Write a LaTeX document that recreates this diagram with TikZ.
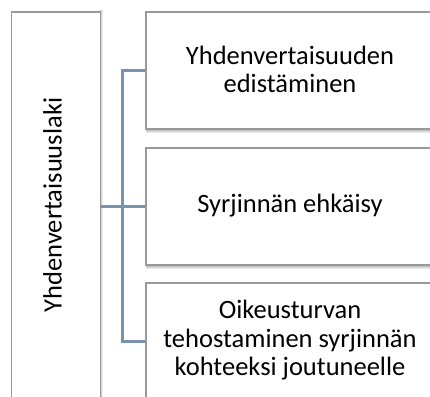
\documentclass[tikz,border=0pt]{standalone}
\usepackage{fontspec}
\setmainfont{Carlito}
\definecolor{connblue}{RGB}{120,148,173}
\begin{document}
\begin{tikzpicture}[x=1pt,y=-1pt,
  box/.style={draw=black!40, line width=1.6pt, fill=white, inner sep=0pt},
  rbox/.style={box, minimum width=290pt, minimum height=117pt, anchor=north west},
  lbl/.style={font=\fontsize{26.5}{28.5}\selectfont, align=center, text=black},
  conn/.style={draw=connblue, line width=3pt}]
\useasboundingbox (0,0) rectangle (430,396);
\clip (0,0) rectangle (430,396);
\fill[white] (0,0) rectangle (430,396);
% shadows
\foreach \t/\b in {128/133, 264/269}{
  \shade[top color=black!40, bottom color=white] (146,\t) rectangle (435,\b);
}
\shade[left color=black!25, right color=white] (100,11) rectangle (103,399);
% boxes
\node[box, minimum width=89pt, minimum height=388pt, anchor=north west] (L) at (10.5,11) {};
\node[rbox] (B1) at (145,11) {};
\node[rbox] (B2) at (145,147) {};
\node[rbox] (B3) at (145,282) {};
% texts
\node[lbl, rotate=90] (TL) at (52.5,205) {Yhdenvertaisuuslaki};
\node[lbl] (T1) at (290,69.5) {Yhdenvertaisuuden\\edistäminen};
\node[lbl] (T2) at (290,205.5) {Syrjinnän ehkäisy};
\node[lbl] (T3) at (290,340.5) {Oikeusturvan\\tehostaminen syrjinnän\\kohteeksi joutuneelle};
% connectors
\coordinate (J) at (122,205);
\draw[conn] (L.east |- B2.west) -- (B2.west);
\draw[conn] (B1.west) -- (J |- B1.west) -- (J |- B3.west) -- (B3.west);
\end{tikzpicture}
\end{document}
